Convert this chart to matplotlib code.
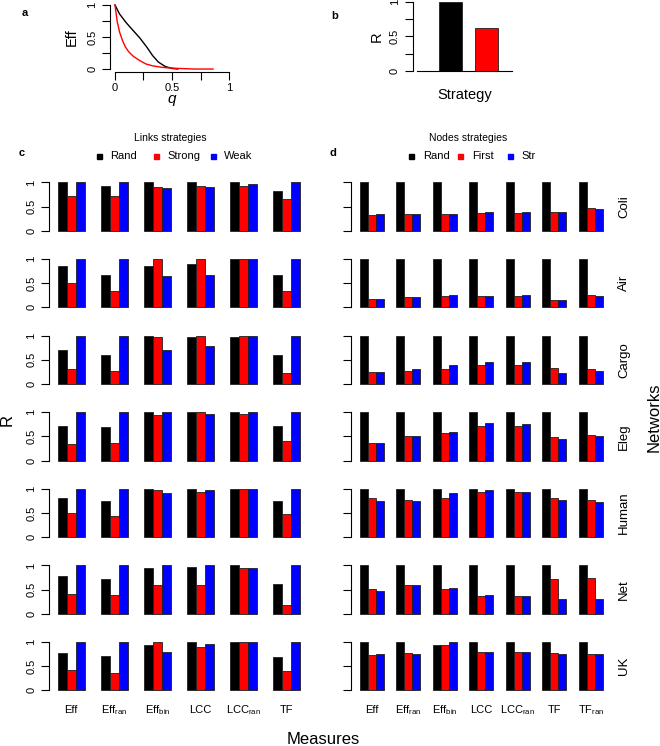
import matplotlib
matplotlib.use("Agg")
import matplotlib.pyplot as plt
from matplotlib.patches import Rectangle
from matplotlib.transforms import blended_transform_factory

plt.rcParams["font.family"] = ["Liberation Sans", "DejaVu Sans"]
plt.rcParams["mathtext.fontset"] = "custom"
plt.rcParams["mathtext.rm"] = "Liberation Sans"
plt.rcParams["mathtext.it"] = "Liberation Sans:italic"

W, H = 660, 746
COLORS = ["#000000", "#ff0000", "#0000ff"]

# panel a: efficiency vs fraction of removed links
q_rand = [0, 0.04, 0.10, 0.16, 0.22, 0.28, 0.33, 0.38, 0.44, 0.50, 0.55]
eff_rand = [1.0, 0.86, 0.72, 0.60, 0.48, 0.34, 0.21, 0.11, 0.04, 0.01, 0.0]
q_strong = [0, 0.02, 0.04, 0.065, 0.09, 0.12, 0.16, 0.21, 0.27, 0.33, 0.40, 0.45, 0.55, 0.70, 0.86]
eff_strong = [1.0, 0.74, 0.58, 0.45, 0.35, 0.27, 0.20, 0.14, 0.08, 0.05, 0.03, 0.02, 0.01, 0.0, 0.0]

# panel b
b_strategies = ["Rand", "Strong"]
b_values = [1.0, 0.62]

networks = ["Coli", "Air", "Cargo", "Eleg", "Human", "Net", "UK"]
link_measures = ["Eff", r"Eff$_{\mathrm{ran}}$", r"Eff$_{\mathrm{bin}}$", "LCC",
                 r"LCC$_{\mathrm{ran}}$", "TF"]
node_measures = link_measures + [r"TF$_{\mathrm{ran}}$"]
link_labels = ["Rand", "Strong", "Weak"]
node_labels = ["Rand", "First", "Str"]

link_rand = [
    [1.00, 0.92, 1.00, 1.00, 1.00, 0.82],
    [0.86, 0.66, 0.86, 0.89, 1.00, 0.66],
    [0.71, 0.60, 1.00, 0.98, 0.98, 0.60],
    [0.71, 0.69, 1.00, 1.00, 1.00, 0.71],
    [0.80, 0.75, 1.00, 1.00, 1.00, 0.75],
    [0.78, 0.71, 0.94, 0.96, 1.00, 0.62],
    [0.78, 0.71, 0.93, 1.00, 1.00, 0.69],
]
link_strong = [
    [0.72, 0.72, 0.90, 0.92, 0.92, 0.66],
    [0.51, 0.33, 1.00, 1.00, 1.00, 0.33],
    [0.32, 0.27, 0.98, 1.00, 1.00, 0.22],
    [0.35, 0.37, 0.95, 1.00, 0.97, 0.41],
    [0.51, 0.43, 0.97, 0.94, 1.00, 0.47],
    [0.41, 0.38, 0.59, 0.59, 0.95, 0.18],
    [0.42, 0.35, 1.00, 0.89, 1.00, 0.40],
]
link_weak = [
    [1.00, 1.00, 0.88, 0.90, 0.96, 1.00],
    [1.00, 1.00, 0.64, 0.66, 1.00, 1.00],
    [1.00, 1.00, 0.71, 0.78, 1.00, 1.00],
    [1.00, 1.00, 1.00, 0.97, 1.00, 1.00],
    [1.00, 1.00, 0.91, 0.97, 1.00, 1.00],
    [1.00, 1.00, 1.00, 1.00, 0.95, 1.00],
    [1.00, 1.00, 0.80, 0.95, 1.00, 1.00],
]

node_rand = [
    [1.00, 1.00, 1.00, 1.00, 1.00, 1.00, 1.00],
    [1.00, 1.00, 1.00, 1.00, 1.00, 1.00, 1.00],
    [1.00, 1.00, 1.00, 1.00, 1.00, 1.00, 1.00],
    [1.00, 1.00, 1.00, 1.00, 1.00, 1.00, 1.00],
    [1.00, 1.00, 1.00, 1.00, 1.00, 1.00, 1.00],
    [1.00, 1.00, 1.00, 1.00, 1.00, 1.00, 1.00],
    [1.00, 1.00, 0.93, 1.00, 1.00, 1.00, 1.00],
]
node_first = [
    [0.32, 0.35, 0.34, 0.37, 0.37, 0.39, 0.48],
    [0.18, 0.22, 0.24, 0.24, 0.24, 0.16, 0.26],
    [0.25, 0.27, 0.32, 0.40, 0.40, 0.33, 0.32],
    [0.37, 0.50, 0.57, 0.71, 0.71, 0.48, 0.53],
    [0.81, 0.77, 0.81, 0.94, 0.94, 0.81, 0.77],
    [0.51, 0.59, 0.51, 0.36, 0.36, 0.71, 0.74],
    [0.73, 0.78, 0.93, 0.80, 0.80, 0.78, 0.75],
]
node_str = [
    [0.35, 0.35, 0.34, 0.39, 0.39, 0.39, 0.46],
    [0.18, 0.22, 0.26, 0.24, 0.26, 0.16, 0.24],
    [0.25, 0.30, 0.40, 0.46, 0.46, 0.23, 0.27],
    [0.37, 0.50, 0.60, 0.77, 0.75, 0.44, 0.50],
    [0.75, 0.75, 0.91, 0.97, 0.94, 0.77, 0.73],
    [0.48, 0.59, 0.53, 0.39, 0.36, 0.31, 0.31],
    [0.75, 0.75, 1.00, 0.80, 0.80, 0.75, 0.75],
]


def px_axes(fig, left, top, right, bottom):
    return fig.add_axes([left / W, 1 - bottom / H, (right - left) / W, (bottom - top) / H])


def r_style(ax, offset):
    for side in ("top", "right"):
        ax.spines[side].set_visible(False)
    ax.spines["left"].set_position(("outward", offset))
    ax.spines["left"].set_bounds(0, 1)
    ax.tick_params(axis="y", length=5.5, width=0.8, pad=4, labelsize=8, labelrotation=90)
    for label in ax.get_yticklabels():
        label.set_va("center")


def bar_row(ax, groups, gap, offset, labels_on):
    n = len(groups[0])
    base = [i * gap for i in range(n)]
    for j, (vals, color) in enumerate(zip(groups, COLORS)):
        ax.bar([b + j for b in base], vals, width=1, align="edge", color=color,
               edgecolor="#202020", linewidth=0.6, clip_on=False)
    ax.set_xlim(0, (n - 1) * gap + 3)
    ax.set_ylim(0, 1)
    ax.set_yticks([0, 0.5, 1])
    ax.set_yticklabels(["0", "0.5", "1"] if labels_on else [])
    ax.set_xticks([])
    ax.spines["bottom"].set_visible(False)
    r_style(ax, offset)
    return base


def legend_row(fig, xs, labels, y, title, title_x):
    fig.text(title_x / W, 1 - 138 / H, title, ha="center", va="center", fontsize=7.5)
    for x, label, color in zip(xs, labels, COLORS):
        fig.patches.append(Rectangle(((x - 2.5) / W, 1 - (y + 2.5) / H), 5 / W, 5 / H,
                                     transform=fig.transFigure, color=color))
        fig.text((x + 11) / W, 1 - y / H, label, ha="left", va="center", fontsize=8)


fig = plt.figure(figsize=(W / 100, H / 100), dpi=100)

# ---- panel a
ax = px_axes(fig, 110.4, 2.4, 233.6, 71.6)
ax.plot(q_rand, eff_rand, color=COLORS[0], lw=1.0)
ax.plot(q_strong, eff_strong, color=COLORS[1], lw=1.0)
ax.set_xlim(-0.04, 1.04)
ax.set_ylim(-0.04, 1.04)
ax.set_xticks([0, 0.25, 0.5, 0.75, 1])
ax.set_xticklabels(["0", "", "0.5", "", "1"])
ax.set_yticks([0, 0.25, 0.5, 0.75, 1])
ax.set_yticklabels(["0", "", "0.5", "", "1"])
r_style(ax, 0)
ax.spines["bottom"].set_bounds(0, 1)
ax.tick_params(axis="x", length=5.5, width=0.8, pad=3, labelsize=8)
ax.set_ylabel("Eff", fontsize=10.5, labelpad=6)
ax.set_xlabel("$q$", fontsize=11, labelpad=0)
fig.text(25 / W, 1 - 13 / H, "a", fontsize=8, fontweight="bold", ha="center", va="center")

# ---- panel b
ax = px_axes(fig, 417, 1.7, 512, 71)
ax.bar(range(len(b_values)), b_values, width=0.64, color=COLORS[:2],
       edgecolor="#202020", linewidth=0.6)
ax.set_xlim(-0.93, 1.71)
ax.set_ylim(0, 1)
ax.set_xticks([])
ax.set_yticks([0, 0.25, 0.5, 0.75, 1])
ax.set_yticklabels(["0", "", "0.5", "", "1"])
r_style(ax, 3)
ax.set_ylabel("R", fontsize=10.5, labelpad=4)
ax.set_xlabel("Strategy", fontsize=10.5, labelpad=12)
fig.text(335 / W, 1 - 16 / H, "b", fontsize=8, fontweight="bold", ha="center", va="center")

# ---- panels c and d
row_top, row_step, row_h = 182.4, 76.6, 48.4
for r, net in enumerate(networks):
    top = row_top + r * row_step
    ax_c = px_axes(fig, 57.7, top, 300, top + row_h)
    base_c = bar_row(ax_c, (link_rand[r], link_strong[r], link_weak[r]), 4.8, 6, True)
    ax_d = px_axes(fig, 360, top, 602.7, top + row_h)
    base_d = bar_row(ax_d, (node_rand[r], node_first[r], node_str[r]), 4.62, 6.5, False)
    fig.text(624 / W, 1 - (top + row_h / 2) / H, net, rotation=90, ha="center",
             va="center", fontsize=9.5)

for ax, base, measures in ((ax_c, base_c, link_measures), (ax_d, base_d, node_measures)):
    tr = blended_transform_factory(ax.transData, fig.transFigure)
    for b, m in zip(base, measures):
        ax.text(b + 1.5, 1 - 713 / H, m, transform=tr, ha="center", va="baseline", fontsize=8)

legend_row(fig, [99.5, 156, 213], link_labels, 156, "Links strategies", 170)
legend_row(fig, [411.7, 460.7, 510], node_labels, 156, "Nodes strategies", 468)
fig.text(22 / W, 1 - 153 / H, "c", fontsize=8, fontweight="bold", ha="center", va="center")
fig.text(333 / W, 1 - 153 / H, "d", fontsize=8, fontweight="bold", ha="center", va="center")

fig.text(7.5 / W, 1 - 420 / H, "R", rotation=90, ha="center", va="center", fontsize=12)
fig.text(654 / W, 1 - 417 / H, "Networks", rotation=90, ha="center", va="center", fontsize=12)
fig.text(323 / W, 1 - 739 / H, "Measures", ha="center", va="center", fontsize=12)

fig.savefig("out.png", dpi=100)
